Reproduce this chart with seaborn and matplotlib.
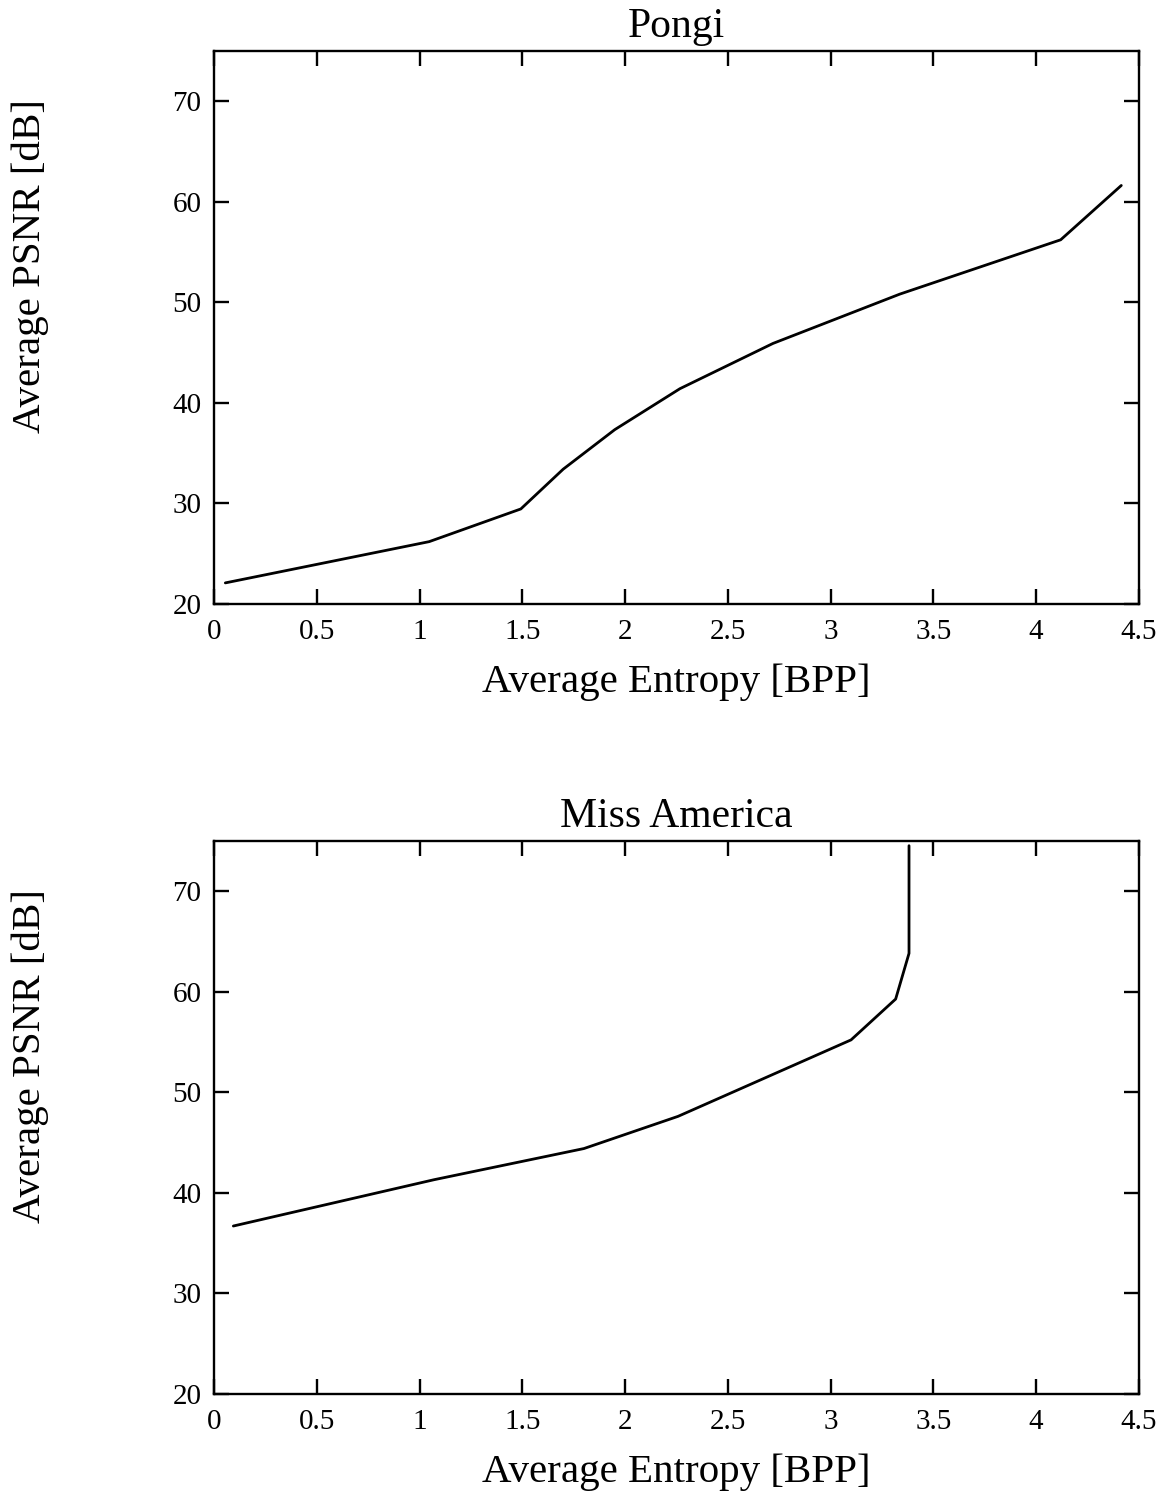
import matplotlib
matplotlib.use("Agg")
import matplotlib.pyplot as plt
import seaborn as sns
import pandas as pd

# Rate-distortion curves: average entropy (bits per pixel) vs average PSNR (dB)
pongi_entropy = [0.055, 1.047, 1.493, 1.699, 1.95, 2.267, 2.72, 3.337, 4.12, 4.415]
pongi_psnr = [22.1, 26.2, 29.45, 33.4, 37.33, 41.4, 45.9, 50.8, 56.2, 61.6]

miss_america_entropy = [0.094, 1.07, 1.80, 2.258, 3.10, 3.317, 3.382, 3.382]
miss_america_psnr = [36.7, 41.3, 44.4, 47.6, 55.2, 59.26, 63.8, 74.5]

titles = ["Pongi", "Miss America"]
x_ticks = [0, 0.5, 1, 1.5, 2, 2.5, 3, 3.5, 4, 4.5]
x_tick_labels = ["0", "0.5", "1", "1.5", "2", "2.5", "3", "3.5", "4", "4.5"]
y_ticks = [20, 30, 40, 50, 60, 70]
y_tick_labels = ["20", "30", "40", "50", "60", "70"]

sns.set_theme(style="ticks")
plt.rcParams["font.family"] = ["Liberation Serif", "DejaVu Serif"]

fig = plt.figure(figsize=(11.67, 14.94), dpi=100)
left, width = 0.1834, 0.7924
ax_top = fig.add_axes([left, 0.5957, width, 0.3704])
ax_bot = fig.add_axes([left, 0.0669, width, 0.3704])

curves = [
    pd.DataFrame({"entropy": pongi_entropy, "psnr": pongi_psnr}),
    pd.DataFrame({"entropy": miss_america_entropy, "psnr": miss_america_psnr}),
]

for ax, df, title in zip([ax_top, ax_bot], curves, titles):
    sns.lineplot(data=df, x="entropy", y="psnr", sort=False, estimator=None,
                 color="black", linewidth=2.0, ax=ax)
    ax.set_xlim(0, 4.5)
    ax.set_ylim(20, 75)
    ax.set_xticks(x_ticks)
    ax.set_xticklabels(x_tick_labels)
    ax.set_yticks(y_ticks)
    ax.set_yticklabels(y_tick_labels)
    ax.tick_params(axis="both", which="major", direction="in", length=11,
                   width=1.7, labelsize=21, color="black", labelcolor="black",
                   top=True, right=True)
    ax.tick_params(axis="x", pad=11)
    ax.tick_params(axis="y", pad=9)
    for spine in ax.spines.values():
        spine.set_visible(True)
        spine.set_linewidth(1.7)
        spine.set_color("black")
    ax.set_xlabel("Average Entropy [BPP]", fontsize=29.5, color="black")
    ax.set_ylabel("Average PSNR [dB]", fontsize=29.5, color="black")
    ax.xaxis.set_label_coords(0.5, -0.108)
    ax.yaxis.set_label_coords(-0.178, 0.611)
    ax.set_title(title, fontsize=30, color="black", pad=10)

fig.savefig("out.png", dpi=100, facecolor="white")
